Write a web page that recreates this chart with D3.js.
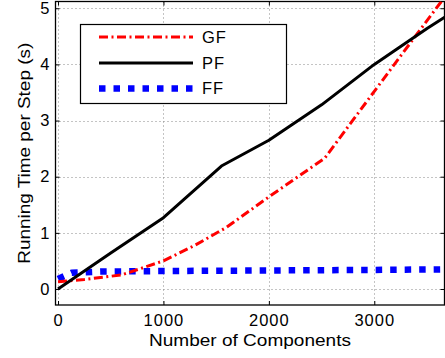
<!DOCTYPE html>
<html>
<head>
<meta charset="utf-8">
<script src="https://cdn.jsdelivr.net/npm/d3@7"></script>
<style>
  body { margin: 0; background: #fff; }
  text { font-family: "Liberation Sans", Arial, Helvetica, sans-serif; }
</style>
</head>
<body>
<svg id="chart" width="445" height="358"></svg>
<script>
// ---- data ----
const seriesNames = ["GF", "PF", "FF"];
const gfX = [0, 250, 600, 1000, 1300, 1600, 2000, 2530, 3000, 3500, 3700];
const gfY = [0.13, 0.17, 0.25, 0.5, 0.78, 1.1, 1.64, 2.33, 3.52, 4.78, 5.28];
const pfX = [0, 500, 1000, 1550, 2000, 2500, 3000, 3500, 3700];
const pfY = [0, 0.64, 1.27, 2.19, 2.65, 3.28, 4.0, 4.64, 4.88];
const ffX = [0, 130, 400, 1000, 2000, 3000, 3700];
const ffY = [0.18, 0.29, 0.31, 0.32, 0.33, 0.34, 0.35];
const xTicks = [0, 1000, 2000, 3000];
const yTicks = [0, 1, 2, 3, 4, 5];
const xLabel = "Number of Components";
const yLabel = "Running Time per Step (s)";

// ---- layout ----
const svg = d3.select("#chart");
const L = 55.5, R = 444.5, T = 1.5, B = 305;
const x = d3.scaleLinear().domain([-24, 3666]).range([L, R]);
const y = d3.scaleLinear().domain([-0.285, 5.12]).range([B, T]);

svg.append("rect").attr("x", 0).attr("y", 0).attr("width", 445).attr("height", 358).attr("fill", "#fff");

// grid
const grid = svg.append("g").attr("stroke", "#888").attr("stroke-width", 1).attr("stroke-dasharray", "1,3");
xTicks.forEach(t => grid.append("line").attr("x1", Math.round(x(t)) + 0.5).attr("x2", Math.round(x(t)) + 0.5).attr("y1", T).attr("y2", B));
yTicks.forEach(t => grid.append("line").attr("y1", Math.round(y(t)) + 0.5).attr("y2", Math.round(y(t)) + 0.5).attr("x1", L).attr("x2", R));

// axes
const fs = "16.5px";
const fmt = d3.format("d");
const gx = svg.append("g").attr("transform", `translate(0,${B})`)
  .call(d3.axisBottom(x).tickValues(xTicks).tickFormat(fmt).tickSizeInner(-4).tickSizeOuter(0).tickPadding(9));
const gxTop = svg.append("g").attr("transform", `translate(0,${T})`)
  .call(d3.axisTop(x).tickValues(xTicks).tickSizeInner(-4).tickSizeOuter(0).tickFormat(""));
const gy = svg.append("g").attr("transform", `translate(${L},0)`)
  .call(d3.axisLeft(y).tickValues(yTicks).tickFormat(fmt).tickSizeInner(-4).tickSizeOuter(0).tickPadding(6));
const gyR = svg.append("g").attr("transform", `translate(${R},0)`)
  .call(d3.axisRight(y).tickValues(yTicks).tickSizeInner(-4).tickSizeOuter(0).tickFormat(""));
[gx, gxTop, gy, gyR].forEach(g => {
  g.select(".domain").remove();
  g.selectAll("line").attr("stroke", "#000");
  g.selectAll("text").attr("fill", "#000").style("font-size", fs)
    .style("font-family", "'Liberation Sans', Arial, sans-serif");
});
gx.selectAll("text").attr("letter-spacing", "1px");

// frame
svg.append("rect").attr("x", L).attr("y", T).attr("width", R - L).attr("height", B - T)
  .attr("fill", "none").attr("stroke", "#000").attr("stroke-width", 1.3);

// clip
svg.append("clipPath").attr("id", "clip").append("rect")
  .attr("x", L).attr("y", T).attr("width", R - L).attr("height", B - T);

const line = d3.line().x(d => x(d[0])).y(d => y(d[1]));
const plot = svg.append("g").attr("clip-path", "url(#clip)");

const styles = {
  GF: { color: "#ff0000", width: 3, dash: "9,3.5,2,3.5" },
  PF: { color: "#000000", width: 3, dash: null },
  FF: { color: "#0000ff", width: 6.5, dash: "6.5,8" }
};
const data = {
  GF: d3.zip(gfX, gfY),
  PF: d3.zip(pfX, pfY),
  FF: d3.zip(ffX, ffY)
};
["FF", "GF", "PF"].forEach(n => {
  const s = styles[n];
  plot.append("path").datum(data[n]).attr("d", line)
    .attr("fill", "none").attr("stroke", s.color).attr("stroke-width", s.width)
    .attr("stroke-dasharray", s.dash).attr("stroke-linejoin", "round");
});

// legend
const leg = svg.append("g");
leg.append("rect").attr("x", 80.5).attr("y", 24.5).attr("width", 206).attr("height", 79)
  .attr("fill", "#fff").attr("stroke", "#000").attr("stroke-width", 1.2);
const legY = [37, 63, 88.5];
seriesNames.forEach((n, i) => {
  const s = styles[n];
  leg.append("line").attr("x1", 99).attr("x2", 193).attr("y1", legY[i]).attr("y2", legY[i])
    .attr("stroke", s.color).attr("stroke-width", s.width).attr("stroke-dasharray", s.dash);
  leg.append("text").attr("x", 202).attr("y", legY[i]).attr("dy", "0.36em")
    .style("font-size", fs).attr("letter-spacing", "1px").text(n);
});

// axis titles
svg.append("text").attr("x", (L + R) / 2).attr("y", 346).attr("text-anchor", "middle")
  .style("font-size", "17px").attr("textLength", 202).attr("lengthAdjust", "spacingAndGlyphs").text(xLabel);
svg.append("text").attr("transform", `translate(30,${(T + B) / 2}) rotate(-90)`).attr("text-anchor", "middle")
  .style("font-size", "17px").attr("textLength", 221).attr("lengthAdjust", "spacingAndGlyphs").text(yLabel);
</script>
</body>
</html>
